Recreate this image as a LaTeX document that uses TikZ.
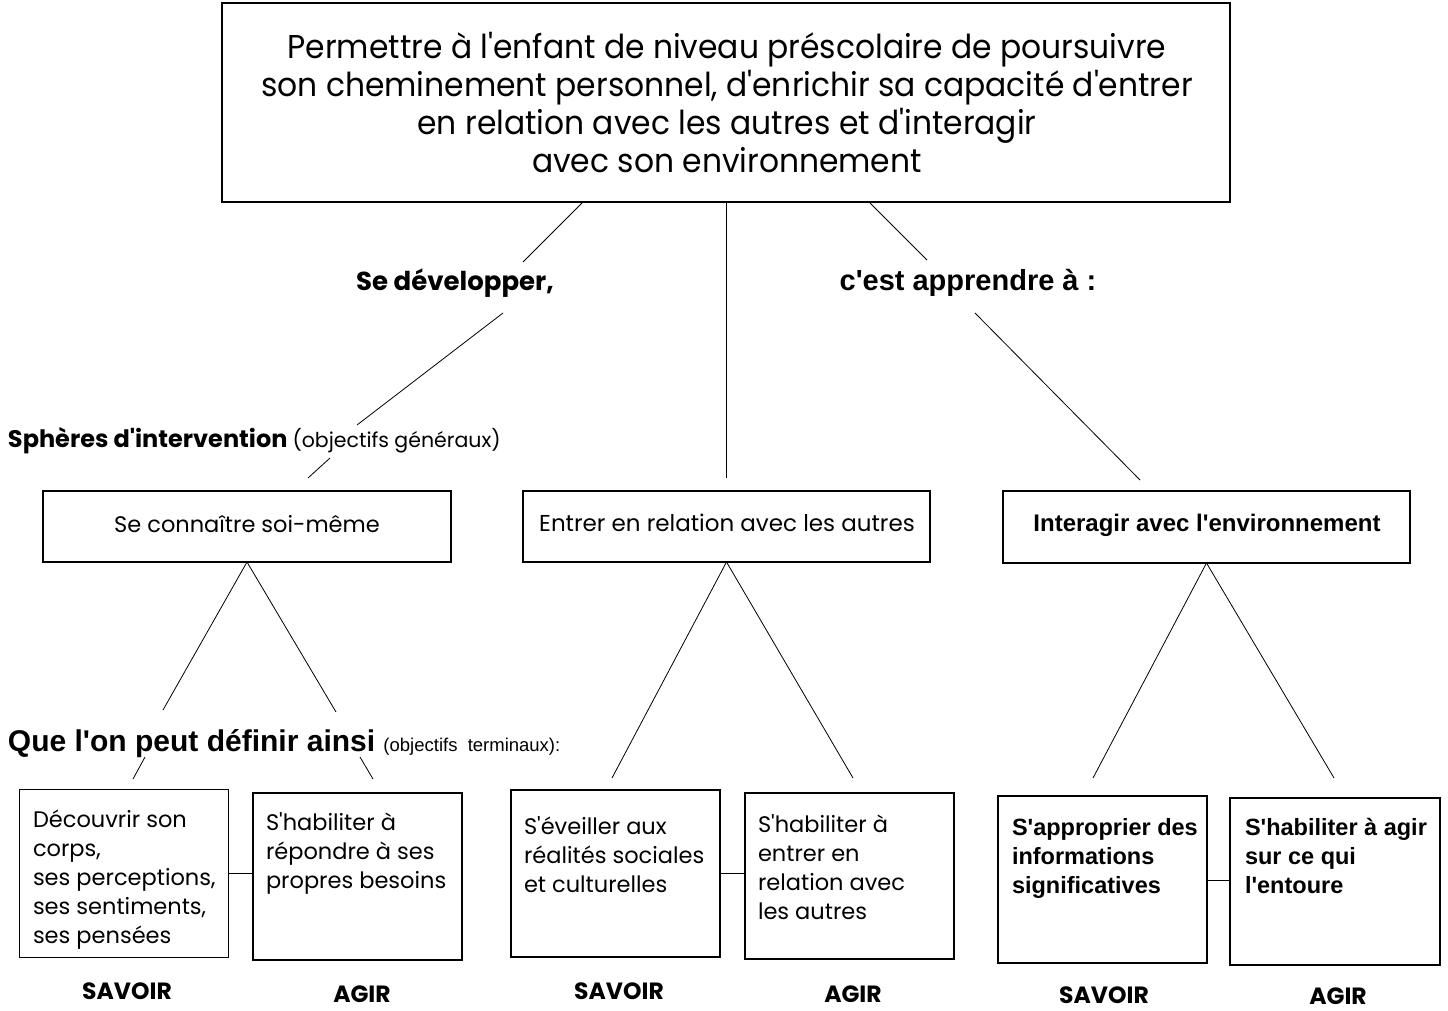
\documentclass[tikz,border=0pt]{standalone}
\usepackage{fontspec}
\setmainfont{Poppins}
\newfontfamily\gothf{Poppins}
\newfontfamily\arialf{Liberation Sans}
\newfontfamily\condf[FakeStretch=0.95]{Poppins}
\begin{document}
\begin{tikzpicture}[x=1pt,y=-1pt,
  every node/.style={inner sep=0pt, outer sep=0pt},
  box/.style={draw, line width=1.2pt, rectangle},
  ln/.style={line width=0.8pt},
  txt/.style={font=\gothf\fontsize{22.5}{29}\selectfont, align=left, anchor=base west},
  txtb/.style={font=\arialf\bfseries\fontsize{23.5}{29}\selectfont, align=left, anchor=base west},
  lab/.style={font=\gothf\bfseries\fontsize{23.5}{26}\selectfont},
  heading/.style={font=\gothf\bfseries\fontsize{26}{30}\selectfont}
]
\useasboundingbox (0,0) rectangle (1448,1010);

% top box
\node[box, minimum width=1008pt, minimum height=199pt] (top) at (726,102.5) {};
\node[font=\condf\fontsize{33}{38}\selectfont, align=center] (toptxt) at (727,103)
  {Permettre à l'enfant de niveau préscolaire de poursuivre\\
   son cheminement personnel, d'enrichir sa capacité d'entrer\\
   en relation avec les autres et d'interagir\\
   avec son environnement};

% middle labels
\node[heading] (dev) at (455,283) {Se développer,};
\node[font=\arialf\bfseries\fontsize{29}{32}\selectfont] (app) at (968,283) {c'est apprendre à :};
\node[anchor=base west] (sph) at (8,447)
  {\gothf\bfseries\fontsize{24}{28}\selectfont Sphères d'intervention {\mdseries\fontsize{20.5}{24}\selectfont (objectifs généraux)}};
\node[anchor=base west] (que) at (8,751)
  {\arialf\bfseries\fontsize{30}{32}\selectfont Que l'on peut définir ainsi {\mdseries\fontsize{18.5}{22}\selectfont (objectifs\ \ terminaux):}};

% second row boxes
\node[box, minimum width=408pt, minimum height=71pt] (c1) at (247,526.5) {};
\node[font=\gothf\fontsize{22.5}{26}\selectfont] (t1) at (247,524) {Se connaître soi-même};
\node[box, minimum width=407pt, minimum height=71pt] (c2) at (726.5,526.5) {};
\node[font=\gothf\fontsize{23}{26}\selectfont] (t2) at (727,523) {Entrer en relation avec les autres};
\node[box, minimum width=407pt, minimum height=72pt] (c3) at (1206.5,527) {};
\node[font=\arialf\bfseries\fontsize{24}{26}\selectfont] (t3) at (1207,525) {Interagir avec l'environnement};

% connectors top -> row 2
\coordinate (a1) at (582,203);
\coordinate (a2) at (523,262);
\coordinate (a3) at (503,313);
\coordinate (a4) at (357,425);
\coordinate (a5) at (330,458);
\coordinate (a6) at (308,478);
\draw[ln] (a1) -- (a2);
\draw[ln] (a3) -- (a4);
\draw[ln] (a5) -- (a6);
\coordinate (v1) at (726,478);
\draw[ln] (top.south) -- (v1);
\coordinate (r1) at (870,203);
\coordinate (r2) at (927,260);
\coordinate (r3) at (975,313);
\coordinate (r4) at (1140,480);
\draw[ln] (r1) -- (r2);
\draw[ln] (r3) -- (r4);

% bottom boxes
\node[box, minimum width=209pt, minimum height=168pt] (b1) at (124,873.5) {};
\node[box, minimum width=209pt, minimum height=167pt] (b2) at (357.5,876.5) {};
\node[box, minimum width=209pt, minimum height=167pt] (b3) at (615.5,873.5) {};
\node[box, minimum width=209pt, minimum height=166pt] (b4) at (849.5,876) {};
\node[box, minimum width=209pt, minimum height=167pt] (b5) at (1102.5,879.5) {};
\node[box, minimum width=210pt, minimum height=167pt] (b6) at (1335,881.5) {};

% (base anchor = baseline of the last line)
\node[txt] (x1) at (33,943) {Découvrir son\\corps,\\ses perceptions,\\ses sentiments,\\ses pensées};
\node[txt] (x2) at (266,888) {S'habiliter à\\répondre à ses\\propres besoins};
\node[txt] (x3) at (524,892) {S'éveiller aux\\réalités sociales\\et culturelles};
\node[txt] (x4) at (758,919) {S'habiliter à\\entrer en\\relation avec\\les autres};
\node[txtb] (x5) at (1012,893) {S'approprier des\\informations\\significatives};
\node[txtb] (x6) at (1245,893) {S'habiliter à agir\\sur ce qui\\l'entoure};

\draw[ln] (b1.east |- 0,873) -- (b2.west |- 0,873);
\draw[ln] (b3.east |- 0,873) -- (b4.west |- 0,873);
\draw[ln] (b5.east |- 0,880) -- (b6.west |- 0,880);

% row 2 -> bottom connectors
\coordinate (s1) at (163,710);
\coordinate (s2) at (336,712);
\coordinate (s3) at (145,757);
\coordinate (s4) at (133,779);
\coordinate (s5) at (360,757);
\coordinate (s6) at (373,779);
\draw[ln] (c1.south) -- (s1);
\draw[ln] (c1.south) -- (s2);
\draw[ln] (s3) -- (s4);
\draw[ln] (s5) -- (s6);
\coordinate (m1) at (612,778);
\coordinate (m2) at (853,778);
\draw[ln] (c2.south) -- (m1);
\draw[ln] (c2.south) -- (m2);
\coordinate (n1) at (1093,778);
\coordinate (n2) at (1334,778);
\draw[ln] (c3.south) -- (n1);
\draw[ln] (c3.south) -- (n2);

% labels
\node[lab] (sv1) at (127,991) {SAVOIR};
\node[lab] (ag1) at (362,994) {AGIR};
\node[lab] (sv2) at (619,991) {SAVOIR};
\node[lab] (ag2) at (853,994) {AGIR};
\node[lab] (sv3) at (1104,995) {SAVOIR};
\node[lab] (ag3) at (1338,996) {AGIR};
\end{tikzpicture}
\end{document}
